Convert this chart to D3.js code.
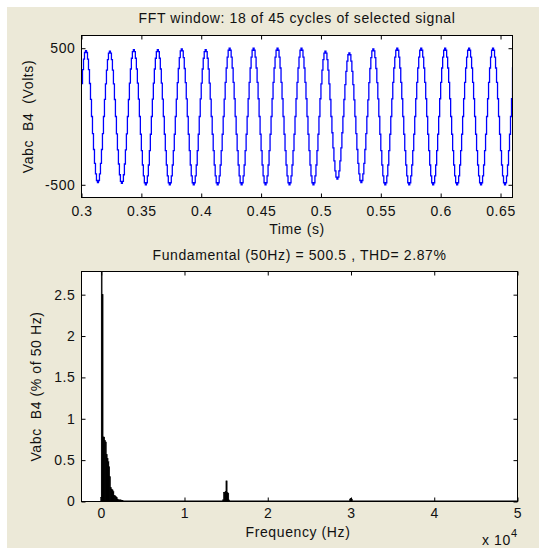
<!DOCTYPE html>
<html>
<head>
<meta charset="utf-8">
<script src="https://cdn.jsdelivr.net/npm/d3@7"></script>
<style>
  body { margin: 0; background: #fff; }
  svg text { font-family: "Liberation Sans", Arial, sans-serif; font-size: 14px; fill: #111; letter-spacing: 0.6px; white-space: pre; }
</style>
</head>
<body>
<svg id="fig" width="539" height="548"></svg>
<script>
// ---- waveform (top plot) ----
var startTime = 0.3;          // s
var stepsPerCycle = 24;       // visible stair steps per 50 Hz cycle
var cycleTime = 0.02;         // s
// one cycle of the trace, per unit of the cycle peak
var cycleShape = [0.5, 0.71, 0.87, 0.97, 1, 0.97, 0.87, 0.71, 0.5, 0.26, 0, -0.26,
  -0.5, -0.71, -0.87, -0.97, -1, -0.97, -0.87, -0.71, -0.5, -0.26, 0, 0.26];
// peak / trough of each of the 18 cycles (Volts)
var cyclePeaks = [483, 478, 490, 490, 495, 490, 500, 500, 500, 500, 478, 466, 495, 500, 500, 500, 500, 500];
var cycleTroughs = [-483, -490, -500, -500, -500, -500, -500, -500, -500, -500, -458, -483, -500, -500, -500, -500, -500, -500];
var lastSample = 360;         // value at the right edge (0.66 s)
var timeTicks = [0.3, 0.35, 0.4, 0.45, 0.5, 0.55, 0.6, 0.65];
var voltTicks = [-500, 500];

// ---- spectrum (bottom plot) ----
var harmFreq = [0, 50, 150, 250, 350, 450, 550, 650, 750, 850, 950, 1050, 1150, 1250, 1350,
  1450, 1550, 1650, 1750, 1850, 1950, 2050, 2150, 2250, 2350, 2450, 2550,
  14650, 14750, 14850, 14950, 15050, 15150, 15250, 15350,
  29900, 30000, 30100];
var harmMag = [0.05, 100, 2.5, 0.78, 0.78, 0.74, 0.72, 0.57, 0.52, 0.48, 0.42, 0.3, 0.17, 0.15, 0.14,
  0.12, 0.07, 0.07, 0.06, 0.05, 0.03, 0.02, 0.02, 0.02, 0.02, 0.015, 0.01,
  0.02, 0.11, 0.11, 0.12, 0.25, 0.11, 0.1, 0.02,
  0.03, 0.04, 0.03];
var freqTicks = [0, 10000, 20000, 30000, 40000, 50000];
var magTicks = [0, 0.5, 1, 1.5, 2, 2.5];

var svg = d3.select('#fig');
var font = '"Liberation Sans", Arial, sans-serif';

// figure background
svg.append('rect')
  .attr('x', 7).attr('y', 7)
  .attr('width', 532).attr('height', 541)
  .attr('fill', '#ece9d8');

/**
 * Draws a boxed MATLAB-style axes with inward ticks on all four sides.
 */
function drawAxes(box, x, y, xTicks, yTicks, xFmt, yFmt, xPad) {
  var g = svg.append('g');
  g.append('rect')
    .attr('x', box.left).attr('y', box.top)
    .attr('width', box.right - box.left).attr('height', box.bottom - box.top)
    .attr('fill', '#fff');

  function styleAxis(sel) {
    sel.select('.domain').remove();
    sel.attr('font-family', font).attr('font-size', 14);
    sel.selectAll('line').attr('stroke', '#000');
  }

  g.append('g')
    .attr('transform', 'translate(0,' + box.bottom + ')')
    .call(d3.axisBottom(x).tickValues(xTicks).tickSize(-4).tickPadding(xPad).tickFormat(xFmt))
    .call(styleAxis);
  g.append('g')
    .attr('transform', 'translate(0,' + box.top + ')')
    .call(d3.axisTop(x).tickValues(xTicks).tickSize(-4).tickFormat(''))
    .call(styleAxis);
  g.append('g')
    .attr('transform', 'translate(' + box.left + ',0)')
    .call(d3.axisLeft(y).tickValues(yTicks).tickSize(-4).tickPadding(6).tickFormat(yFmt))
    .call(styleAxis);
  g.append('g')
    .attr('transform', 'translate(' + box.right + ',0)')
    .call(d3.axisRight(y).tickValues(yTicks).tickSize(-4).tickFormat(''))
    .call(styleAxis);
  return g;
}

function frame(box) {
  svg.append('rect')
    .attr('x', box.left).attr('y', box.top)
    .attr('width', box.right - box.left).attr('height', box.bottom - box.top)
    .attr('fill', 'none')
    .attr('stroke', '#000')
    .attr('stroke-width', 1);
}

function clipFor(id, box) {
  svg.append('clipPath').attr('id', id)
    .append('rect')
    .attr('x', box.left).attr('y', box.top)
    .attr('width', box.right - box.left).attr('height', box.bottom - box.top);
}

// ---------------- top: time signal ----------------
var topBox = {left: 81.5, right: 512.5, top: 35.5, bottom: 197.5};
var xTime = d3.scaleLinear().domain([0.3, 0.66]).range([topBox.left, topBox.right]);
var yVolt = d3.scaleLinear().domain([-593, 593]).range([topBox.bottom, topBox.top]);

drawAxes(topBox, xTime, yVolt, timeTicks, voltTicks,
  function (d) { return String(d); },
  function (d) { return String(d); }, 9);
clipFor('clipTop', topBox);

var wave = [];
cyclePeaks.forEach(function (pk, c) {
  cycleShape.forEach(function (s, k) {
    wave.push({
      t: startTime + (c + k / stepsPerCycle) * cycleTime,
      v: s >= 0 ? s * pk : -s * cycleTroughs[c]
    });
  });
});
wave.push({t: startTime + cyclePeaks.length * cycleTime, v: lastSample});

svg.append('path')
  .datum(wave)
  .attr('clip-path', 'url(#clipTop)')
  .attr('fill', 'none')
  .attr('stroke', '#0000ff')
  .attr('stroke-width', 1.3)
  .attr('d', d3.line()
    .curve(d3.curveStepAfter)
    .x(function (d) { return xTime(d.t); })
    .y(function (d) { return yVolt(d.v); }));

frame(topBox);

svg.append('text')
  .attr('x', (topBox.left + topBox.right) / 2).attr('y', 23)
  .attr('text-anchor', 'middle')
  .text('FFT window: 18 of 45 cycles of selected signal');
svg.append('text')
  .attr('x', (topBox.left + topBox.right) / 2).attr('y', 234)
  .attr('text-anchor', 'middle')
  .text('Time (s)');
svg.append('text')
  .attr('transform', 'translate(33,' + (topBox.top + topBox.bottom) / 2 + ') rotate(-90)')
  .attr('text-anchor', 'middle')
  .text('Vabc  B4  (Volts)');

// ---------------- bottom: spectrum ----------------
var botBox = {left: 81.5, right: 517.5, top: 271.5, bottom: 501.5};
var xFreq = d3.scaleLinear().domain([-2370, 50000]).range([botBox.left, botBox.right]);
var yMag = d3.scaleLinear().domain([0, 2.78]).range([botBox.bottom, botBox.top]);

drawAxes(botBox, xFreq, yMag, freqTicks, magTicks,
  function (d) { return String(d / 10000); },
  function (d) { return String(d); }, 7);
clipFor('clipBot', botBox);

// bars are at least ~1 px wide so neighbouring lines stay visible
function barWidth(d) {
  return Math.max(d.m > 10 ? 1 : 1.3, xFreq(d.f + 50) - xFreq(d.f - 50));
}

var bars = harmFreq.map(function (f, i) { return {f: f, m: harmMag[i]}; });
svg.append('g')
  .attr('clip-path', 'url(#clipBot)')
  .selectAll('rect')
  .data(bars)
  .enter()
  .append('rect')
  .attr('x', function (d) { return xFreq(d.f) - barWidth(d) / 2; })
  .attr('width', barWidth)
  .attr('y', function (d) { return yMag(d.m); })
  .attr('height', function (d) { return yMag(0) - yMag(d.m); })
  .attr('fill', '#000')
  .attr('stroke', '#000')
  .attr('stroke-width', 0.4);

// bar baseline
svg.append('line')
  .attr('x1', xFreq(0)).attr('x2', xFreq(50000))
  .attr('y1', yMag(0) - 0.5).attr('y2', yMag(0) - 0.5)
  .attr('stroke', '#000')
  .attr('stroke-width', 1.2);

frame(botBox);

svg.append('text')
  .attr('x', (botBox.left + botBox.right) / 2).attr('y', 260)
  .attr('text-anchor', 'middle')
  .text('Fundamental (50Hz) = 500.5 , THD= 2.87%');
svg.append('text')
  .attr('x', 298).attr('y', 537)
  .attr('text-anchor', 'middle')
  .text('Frequency (Hz)');
svg.append('text')
  .attr('transform', 'translate(41,' + (botBox.top + botBox.bottom) / 2 + ') rotate(-90)')
  .attr('text-anchor', 'middle')
  .text('Vabc  B4 (% of 50 Hz)');

var expo = svg.append('text')
  .attr('x', 482).attr('y', 545);
expo.append('tspan').text('x 10');
expo.append('tspan')
  .attr('dy', -8)
  .attr('font-size', 11)
  .style('font-size', '11px')
  .text('4');
</script>
</body>
</html>
